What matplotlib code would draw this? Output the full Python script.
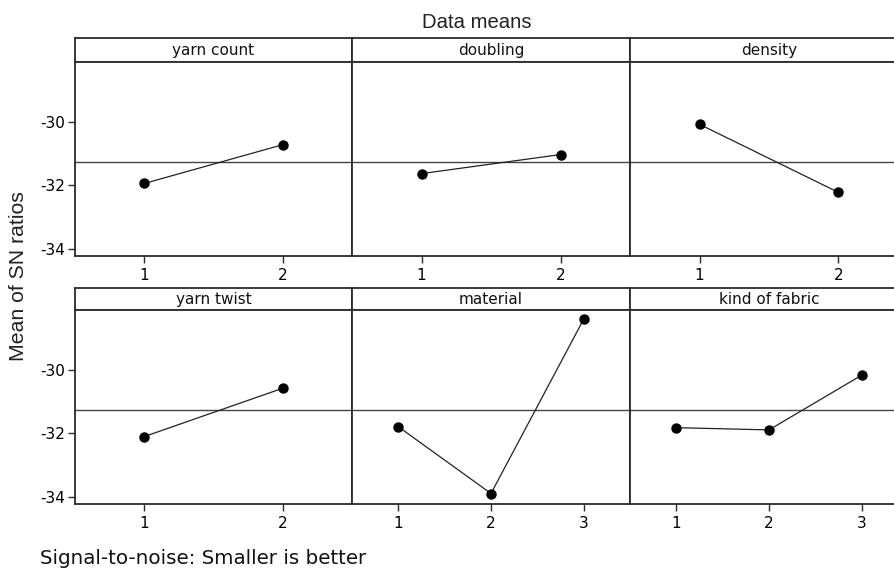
import matplotlib
matplotlib.use("Agg")
import matplotlib.pyplot as plt

# ---- data ----
factors = ["yarn count", "doubling", "density", "yarn twist", "material", "kind of fabric"]
yarn_count = [-31.94, -30.72]
doubling = [-31.63, -31.03]
density = [-30.08, -32.22]
yarn_twist = [-32.10, -30.58]
material = [-31.79, -33.89, -28.41]
kind_of_fabric = [-31.82, -31.89, -30.17]
overall_mean = -31.28
y_ticks = [-30, -32, -34]
series = [yarn_count, doubling, density, yarn_twist, material, kind_of_fabric]

W, H = 895, 573
fig = plt.figure(figsize=(W / 100, H / 100), dpi=100)

FRAME = "#2b2b2b"
col_x = [75, 352, 630, 908]
rows = [(38, 62, 256), (288, 310, 504)]  # strip top, plot top, plot bottom


def fx(x):
    return x / W


def fy(y):
    return 1 - y / H


for i, (name, vals) in enumerate(zip(factors, series)):
    r, c = divmod(i, 3)
    st, pt, pb = rows[r]
    x0, x1 = col_x[c], col_x[c + 1]
    # strip
    sax = fig.add_axes([fx(x0), fy(pt), fx(x1) - fx(x0), fy(st) - fy(pt)])
    sax.set_xticks([])
    sax.set_yticks([])
    for s in sax.spines.values():
        s.set_color(FRAME)
        s.set_linewidth(1.3)
    sax.text(0.5, 0.48, name, transform=sax.transAxes, ha="center", va="center",
             fontsize=11, family="DejaVu Sans", color="#111111")
    # plot
    ax = fig.add_axes([fx(x0), fy(pb), fx(x1) - fx(x0), fy(pt) - fy(pb)])
    levels = list(range(1, len(vals) + 1))
    ax.axhline(overall_mean, color="#444444", lw=1.0, zorder=1)
    ax.plot(levels, vals, color="#222222", lw=0.9, marker="o", markersize=6.5,
            markerfacecolor="black", markeredgecolor="black", zorder=3)
    ax.set_xlim(0.5, len(vals) + 0.5)
    ax.set_ylim(-34.22, -28.12)
    ax.set_xticks(levels)
    ax.set_xticklabels([str(l) for l in levels], fontsize=11, family="DejaVu Sans")
    ax.tick_params(axis="x", length=5, width=1, pad=4, color=FRAME)
    if c == 0:
        ax.set_yticks(y_ticks)
        ax.set_yticklabels([str(t) for t in y_ticks], fontsize=11, family="DejaVu Sans")
        ax.tick_params(axis="y", length=5, width=1, pad=2, color=FRAME)
    else:
        ax.set_yticks([])
    for s in ax.spines.values():
        s.set_color(FRAME)
        s.set_linewidth(1.3)

fig.text(fx(477), fy(22), "Data means", ha="center", va="center",
         fontsize=14.6, family="Liberation Sans", color="#222222")
fig.text(fx(19), fy(276), "Mean of SN ratios", ha="center", va="center",
         rotation=90, fontsize=15.3, family="Liberation Sans", color="#222222")
fig.text(fx(40), fy(558), "Signal-to-noise: Smaller is better", ha="left", va="center",
         fontsize=14.3, family="DejaVu Sans", color="#111111")

fig.savefig("out.png", dpi=100)
